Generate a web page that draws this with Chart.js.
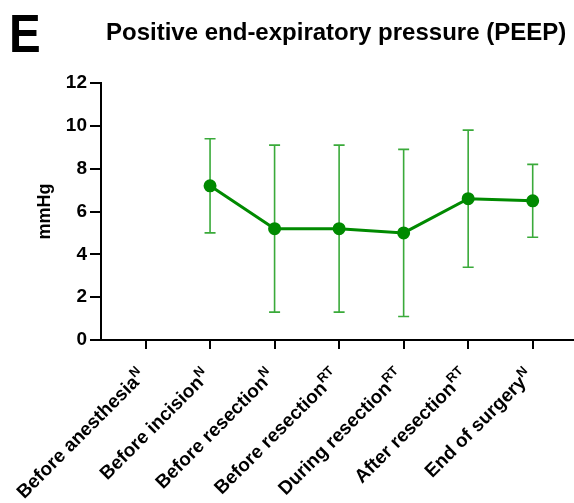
<!DOCTYPE html>
<html>
<head>
<meta charset="utf-8">
<script src="https://cdn.jsdelivr.net/npm/chart.js@4"></script>
<style>
  html, body { margin: 0; padding: 0; background: #fff; }
  #wrap { width: 574px; height: 503px; }
</style>
</head>
<body>
<div id="wrap"><canvas id="peepChart" width="574" height="503"></canvas></div>
<script>
const categories = ['Before anesthesia', 'Before incision', 'Before resection', 'Before resection', 'During resection', 'After resection', 'End of surgery'];
const superscripts = ['N', 'N', 'N', 'RT', 'RT', 'RT', 'N'];
const means = [null, 7.2, 5.2, 5.2, 5.0, 6.6, 6.5];
const lower = [null, 5.0, 1.3, 1.3, 1.1, 3.4, 4.8];
const upper = [null, 9.4, 9.1, 9.1, 8.9, 9.8, 8.2];
const yTicks = [0, 2, 4, 6, 8, 10, 12];

const FONT = '"Liberation Sans", Arial, Helvetica, sans-serif';
const lineColor = '#008a00';
const barColor = '#3aaa3a';

// error bars, drawn under the line and points
const errorBars = {
  id: 'errorBars',
  beforeDatasetsDraw(chart) {
    const { ctx, scales: { x, y } } = chart;
    ctx.save();
    ctx.strokeStyle = barColor;
    ctx.lineWidth = 1.6;
    means.forEach((m, i) => {
      if (m === null) return;
      const px = x.getPixelForValue(i);
      const top = y.getPixelForValue(upper[i]);
      const bot = y.getPixelForValue(lower[i]);
      ctx.beginPath();
      ctx.moveTo(px, top);
      ctx.lineTo(px, bot);
      ctx.moveTo(px - 5.5, top);
      ctx.lineTo(px + 5.5, top);
      ctx.moveTo(px - 5.5, bot);
      ctx.lineTo(px + 5.5, bot);
      ctx.stroke();
    });
    ctx.restore();
  },
};

// rotated category labels with superscripts, panel letter and title
const labelsAndTitle = {
  id: 'labelsAndTitle',
  afterDraw(chart) {
    const { ctx, scales: { x } } = chart;
    ctx.save();
    ctx.fillStyle = '#000';
    categories.forEach((name, i) => {
      const px = x.getPixelForValue(i);
      ctx.save();
      ctx.translate(px + 1, 377);
      ctx.rotate(-Math.PI / 4);
      ctx.textAlign = 'right';
      ctx.textBaseline = 'alphabetic';
      ctx.font = `bold 13px ${FONT}`;
      const supW = ctx.measureText(superscripts[i]).width;
      ctx.fillText(superscripts[i], 0, -8);
      ctx.font = `bold 19px ${FONT}`;
      ctx.fillText(name, -supW, 0);
      ctx.restore();
    });

    ctx.textAlign = 'left';
    ctx.textBaseline = 'alphabetic';
    ctx.save();
    ctx.translate(9, 52);
    ctx.scale(0.88, 1);
    ctx.font = `bold 54px ${FONT}`;
    ctx.fillText('E', 0, 0);
    ctx.restore();
    ctx.font = `bold 24px ${FONT}`;
    ctx.fillText('Positive end-expiratory pressure (PEEP)', 106, 40);
    ctx.restore();
  },
};

new Chart(document.getElementById('peepChart'), {
  type: 'line',
  data: {
    datasets: [{
      data: means.map((v, i) => ({ x: i, y: v })),
      borderColor: lineColor,
      backgroundColor: lineColor,
      borderWidth: 3,
      pointRadius: 5,
      pointHoverRadius: 5,
      tension: 0,
    }],
  },
  options: {
    responsive: false,
    animation: false,
    events: [],
    layout: { autoPadding: false, padding: { top: 83, right: 0, bottom: 0, left: 0 } },
    plugins: { legend: { display: false }, tooltip: { enabled: false } },
    scales: {
      x: {
        type: 'linear',
        min: -0.69,
        max: 6.64,
        afterBuildTicks: scale => { scale.ticks = categories.map((c, i) => ({ value: i })); },
        afterFit: scale => { scale.height = 163; },
        ticks: { display: false },
        grid: { drawOnChartArea: false, color: '#000', lineWidth: 2, tickLength: 9 },
        border: { color: '#000', width: 2 },
      },
      y: {
        min: 0,
        max: 12,
        afterBuildTicks: scale => { scale.ticks = yTicks.map(v => ({ value: v })); },
        afterFit: scale => { scale.width = 101; },
        ticks: { color: '#000', padding: 3, font: { family: FONT, size: 19, weight: 'bold' } },
        grid: { drawOnChartArea: false, color: '#000', lineWidth: 2, tickLength: 11 },
        border: { color: '#000', width: 2 },
        title: {
          display: true,
          text: 'mmHg',
          color: '#000',
          padding: { top: 34, bottom: 0 },
          font: { family: FONT, size: 18, weight: 'bold' },
        },
      },
    },
  },
  plugins: [errorBars, labelsAndTitle],
});
</script>
</body>
</html>
